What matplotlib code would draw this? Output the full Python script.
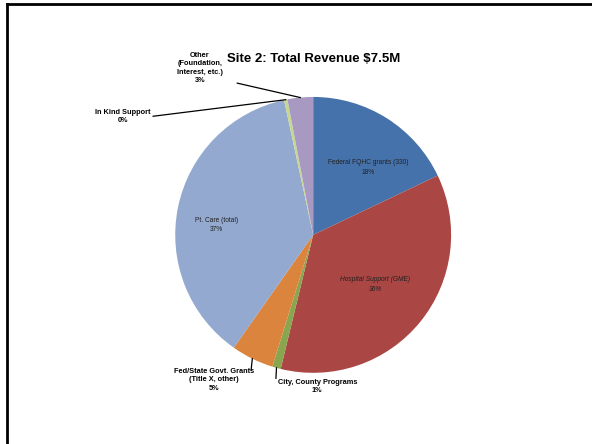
import numpy as np
import matplotlib
matplotlib.use('Agg')
import matplotlib.pyplot as plt
from matplotlib.lines import Line2D

plt.rcParams['font.family'] = ['Liberation Sans', 'DejaVu Sans']

categories = ["Federal FQHC grants (330)", "Hospital Support (GME)", "City, County Programs",
              "Fed/State Govt. Grants\n(Title X, other)", "Pt. Care (total)", "In Kind Support",
              "Other\n(Foundation,\nInterest, etc.)"]
shares = [18, 36, 1, 5, 37, 0.4, 3]
pct_labels = ["18%", "36%", "1%", "5%", "37%", "0%", "3%"]
colors = ["#4672AB", "#AA4643", "#89A54E", "#DB843D", "#93A9CF", "#C6D88F", "#A899C2"]

fig = plt.figure(figsize=(5.92, 4.44), dpi=100)
ax = fig.add_axes([0.296, 0.160, 0.466, 0.622])
wedges, _ = ax.pie(shares, colors=colors, startangle=90, counterclock=False,
                   wedgeprops=dict(linewidth=0))
ax.set_xlim(-1, 1); ax.set_ylim(-1, 1)
ax.set_aspect('equal')

# inside labels
inside = {0: (0.40, 0.49), 1: (0.45, -0.36), 4: (-0.70, 0.07)}
for i, (tx, ty) in inside.items():
    ax.text(tx, ty, categories[i] + "\n" + pct_labels[i], ha="center", va="center",
            fontsize=4.8, color="#222222", style="italic" if i == 1 else "normal",
            linespacing=1.5)

# outside labels with leader lines
outside = {6: (-0.82, 1.21), 5: (-1.38, 0.86), 3: (-0.72, -1.05), 2: (0.03, -1.10)}
anchors = {6: (-0.55, 1.10), 5: (-1.16, 0.86), 3: (-0.45, -0.98), 2: (-0.27, -1.04)}
for i, (tx, ty) in outside.items():
    w = wedges[i]
    th = np.deg2rad((w.theta1 + w.theta2) / 2)
    ex, ey = np.cos(th), np.sin(th)
    ax.text(tx, ty, categories[i] + "\n" + pct_labels[i], ha="center", va="center",
            fontsize=5.3, fontweight="bold", linespacing=1.3, clip_on=False)
    axx, axy = anchors[i]
    ax.plot([axx, ex], [axy, ey], color="black", lw=0.9, clip_on=False)

fig.text(0.529, 0.868, "Site 2: Total Revenue $7.5M", ha="center", va="center",
         fontsize=9.5, fontweight="bold")

# slide frame (top and left edges)
fig.add_artist(Line2D([7/592, 7/592], [0, 1 - 4/444], color="black", lw=2))
fig.add_artist(Line2D([7/592, 1], [1 - 4/444, 1 - 4/444], color="black", lw=2))

fig.savefig("out.png", dpi=100)
